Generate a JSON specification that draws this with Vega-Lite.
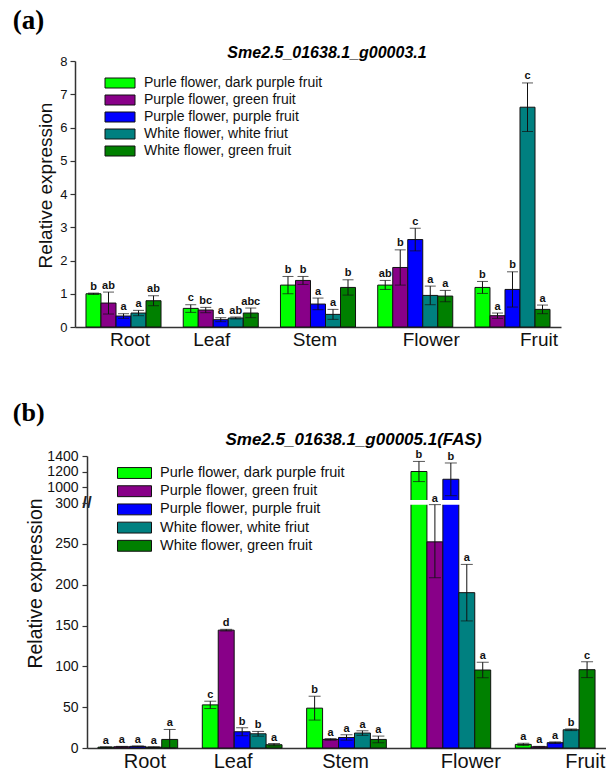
{
  "$schema": "https://vega.github.io/schema/vega-lite/v6.json",
  "background": "white",
  "padding": {"left": 12, "top": 7, "right": 0, "bottom": 0},
  "config": {
    "view": {"stroke": null},
    "font": "Liberation Sans",
    "axis": {"grid": false, "domainColor": "#333333", "tickColor": "#333333", "labelColor": "#111111", "titleColor": "#111111", "labelFont": "Liberation Sans", "titleFont": "Liberation Sans", "titleFontWeight": "normal", "domainWidth": 1.5, "tickWidth": 1.2, "labelOverlap": false},
    "axisQuantitative": {"labelOverlap": false},
    "legend": {"labelFont": "Liberation Sans", "labelColor": "#111111", "labelLimit": 400, "padding": 0},
    "title": {"color": "#000000"}
  },
  "datasets": {
    "a": [
      {"tissue": "Root", "series": "Purle flower, dark purple fruit", "mean": 1.00, "lo": 0.98, "hi": 1.02, "letter": "b"},
      {"tissue": "Root", "series": "Purple flower, green fruit", "mean": 0.72, "lo": 0.39, "hi": 1.05, "letter": "ab"},
      {"tissue": "Root", "series": "Purple flower, purple fruit", "mean": 0.33, "lo": 0.26, "hi": 0.40, "letter": "a"},
      {"tissue": "Root", "series": "White flower, white friut", "mean": 0.42, "lo": 0.34, "hi": 0.50, "letter": "a"},
      {"tissue": "Root", "series": "White flower, green fruit", "mean": 0.79, "lo": 0.64, "hi": 0.94, "letter": "ab"},
      {"tissue": "Leaf", "series": "Purle flower, dark purple fruit", "mean": 0.56, "lo": 0.44, "hi": 0.67, "letter": "c"},
      {"tissue": "Leaf", "series": "Purple flower, green fruit", "mean": 0.51, "lo": 0.43, "hi": 0.59, "letter": "bc"},
      {"tissue": "Leaf", "series": "Purple flower, purple fruit", "mean": 0.22, "lo": 0.16, "hi": 0.28, "letter": "a"},
      {"tissue": "Leaf", "series": "White flower, white friut", "mean": 0.27, "lo": 0.24, "hi": 0.30, "letter": "ab"},
      {"tissue": "Leaf", "series": "White flower, green fruit", "mean": 0.42, "lo": 0.28, "hi": 0.57, "letter": "abc"},
      {"tissue": "Stem", "series": "Purle flower, dark purple fruit", "mean": 1.26, "lo": 1.00, "hi": 1.52, "letter": "b"},
      {"tissue": "Stem", "series": "Purple flower, green fruit", "mean": 1.40, "lo": 1.28, "hi": 1.52, "letter": "b"},
      {"tissue": "Stem", "series": "Purple flower, purple fruit", "mean": 0.69, "lo": 0.52, "hi": 0.87, "letter": "a"},
      {"tissue": "Stem", "series": "White flower, white friut", "mean": 0.38, "lo": 0.23, "hi": 0.53, "letter": "a"},
      {"tissue": "Stem", "series": "White flower, green fruit", "mean": 1.19, "lo": 0.96, "hi": 1.42, "letter": "b"},
      {"tissue": "Flower", "series": "Purle flower, dark purple fruit", "mean": 1.26, "lo": 1.13, "hi": 1.40, "letter": "ab"},
      {"tissue": "Flower", "series": "Purple flower, green fruit", "mean": 1.79, "lo": 1.26, "hi": 2.32, "letter": "b"},
      {"tissue": "Flower", "series": "Purple flower, purple fruit", "mean": 2.63, "lo": 2.29, "hi": 2.97, "letter": "c"},
      {"tissue": "Flower", "series": "White flower, white friut", "mean": 0.95, "lo": 0.67, "hi": 1.23, "letter": "a"},
      {"tissue": "Flower", "series": "White flower, green fruit", "mean": 0.93, "lo": 0.76, "hi": 1.10, "letter": "a"},
      {"tissue": "Fruit", "series": "Purle flower, dark purple fruit", "mean": 1.19, "lo": 1.01, "hi": 1.37, "letter": "b"},
      {"tissue": "Fruit", "series": "Purple flower, green fruit", "mean": 0.34, "lo": 0.26, "hi": 0.42, "letter": "a"},
      {"tissue": "Fruit", "series": "Purple flower, purple fruit", "mean": 1.13, "lo": 0.60, "hi": 1.66, "letter": "b"},
      {"tissue": "Fruit", "series": "White flower, white friut", "mean": 6.61, "lo": 5.88, "hi": 7.34, "letter": "c"},
      {"tissue": "Fruit", "series": "White flower, green fruit", "mean": 0.53, "lo": 0.40, "hi": 0.66, "letter": "a"}
    ],
    "b": [
      {"tissue": "Root", "series": "Purle flower, dark purple fruit", "mean": 1.0, "lo": 0.5, "hi": 1.5, "letter": "a"},
      {"tissue": "Root", "series": "Purple flower, green fruit", "mean": 1.5, "lo": 1.0, "hi": 2.0, "letter": "a"},
      {"tissue": "Root", "series": "Purple flower, purple fruit", "mean": 2.0, "lo": 1.5, "hi": 2.5, "letter": "a"},
      {"tissue": "Root", "series": "White flower, white friut", "mean": 1.0, "lo": 0.5, "hi": 1.5, "letter": "a"},
      {"tissue": "Root", "series": "White flower, green fruit", "mean": 10.5, "lo": 0, "hi": 22.7, "letter": "a"},
      {"tissue": "Leaf", "series": "Purle flower, dark purple fruit", "mean": 52.8, "lo": 48.3, "hi": 57.3, "letter": "c"},
      {"tissue": "Leaf", "series": "Purple flower, green fruit", "mean": 144.3, "lo": 143.3, "hi": 145.3, "letter": "d"},
      {"tissue": "Leaf", "series": "Purple flower, purple fruit", "mean": 19.9, "lo": 15.0, "hi": 24.8, "letter": "b"},
      {"tissue": "Leaf", "series": "White flower, white friut", "mean": 17.4, "lo": 14.5, "hi": 20.3, "letter": "b"},
      {"tissue": "Leaf", "series": "White flower, green fruit", "mean": 4.0, "lo": 2.5, "hi": 5.5, "letter": "a"},
      {"tissue": "Stem", "series": "Purle flower, dark purple fruit", "mean": 48.8, "lo": 34.2, "hi": 63.4, "letter": "b"},
      {"tissue": "Stem", "series": "Purple flower, green fruit", "mean": 10.5, "lo": 9.5, "hi": 11.5, "letter": "a"},
      {"tissue": "Stem", "series": "Purple flower, purple fruit", "mean": 12.9, "lo": 9.6, "hi": 16.2, "letter": "a"},
      {"tissue": "Stem", "series": "White flower, white friut", "mean": 18.3, "lo": 15.5, "hi": 21.1, "letter": "a"},
      {"tissue": "Stem", "series": "White flower, green fruit", "mean": 10.5, "lo": 6.4, "hi": 14.6, "letter": "a"},
      {"tissue": "Flower", "series": "Purle flower, dark purple fruit", "mean": 1200, "lo": 1070, "hi": 1330, "letter": "b"},
      {"tissue": "Flower", "series": "Purple flower, green fruit", "mean": 252.4, "lo": 208.5, "hi": 298, "letter": "a"},
      {"tissue": "Flower", "series": "Purple flower, purple fruit", "mean": 1100, "lo": 620, "hi": 1310, "letter": "b"},
      {"tissue": "Flower", "series": "White flower, white friut", "mean": 190.2, "lo": 155.6, "hi": 224.8, "letter": "a"},
      {"tissue": "Flower", "series": "White flower, green fruit", "mean": 95.5, "lo": 86.0, "hi": 105.0, "letter": "a"},
      {"tissue": "Fruit", "series": "Purle flower, dark purple fruit", "mean": 4.4, "lo": 3.0, "hi": 5.8, "letter": "a"},
      {"tissue": "Fruit", "series": "Purple flower, green fruit", "mean": 1.5, "lo": 1.0, "hi": 2.0, "letter": "a"},
      {"tissue": "Fruit", "series": "Purple flower, purple fruit", "mean": 6.5, "lo": 5.5, "hi": 7.5, "letter": "a"},
      {"tissue": "Fruit", "series": "White flower, white friut", "mean": 22.3, "lo": 21.3, "hi": 23.3, "letter": "b"},
      {"tissue": "Fruit", "series": "White flower, green fruit", "mean": 95.9, "lo": 86.2, "hi": 105.6, "letter": "c"}
    ]
  },
  "columns": 1,
  "align": "none",
  "spacing": 51,
  "resolve": {"scale": {"x": "independent", "y": "independent", "color": "independent", "xOffset": "independent"}, "axis": {"x": "independent", "y": "independent"}, "legend": {"color": "independent"}},
  "concat": [
    {
      "title": {"text": "(a)", "anchor": "start", "frame": "bounds", "font": "Liberation Serif", "fontSize": 27, "fontWeight": "bold", "dx": -24, "offset": 10},
      "resolve": {"scale": {"color": "independent"}, "legend": {"color": "independent"}},
      "vconcat": [
        {
          "title": {"text": "Sme2.5_01638.1_g00003.1", "font": "Liberation Sans", "fontSize": 16, "fontWeight": "bold", "fontStyle": "italic", "anchor": "middle", "frame": "group", "dx": 9, "offset": -6},
          "width": 486,
          "height": 266,
          "data": {"name": "a"},
          "layer": [
            {
              "mark": {"type": "bar", "stroke": "#111111", "strokeWidth": 1},
              "encoding": {
                "x": {"field": "tissue", "type": "nominal", "sort": ["Root", "Leaf", "Stem", "Flower", "Fruit"], "scale": {"paddingInner": 0.2284, "paddingOuter": 0.113}, "title": null,
                  "axis": {"ticks": false, "labelFontSize": 19, "labelPadding": 3, "labelAngle": 0,
                    "labelOffset": {"condition": [{"test": "datum.value === 'Root'", "value": 6.5}, {"test": "datum.value === 'Leaf'", "value": -9}, {"test": "datum.value === 'Stem'", "value": -3}, {"test": "datum.value === 'Flower'", "value": 16}], "value": 26.5}}},
                "xOffset": {"field": "series", "type": "nominal", "sort": ["Purle flower, dark purple fruit", "Purple flower, green fruit", "Purple flower, purple fruit", "White flower, white friut", "White flower, green fruit"], "scale": {"paddingInner": 0, "paddingOuter": 0}},
                "y": {"field": "mean", "type": "quantitative", "scale": {"domain": [0, 8], "nice": false}, "title": "Relative expression",
                  "axis": {"values": [0, 1, 2, 3, 4, 5, 6, 7, 8], "labelOverlap": false, "labelFontSize": 13, "tickSize": 5, "labelPadding": 3, "titleFontSize": 19, "titlePadding": 4, "titleY": 124}},
                "color": {"field": "series", "type": "nominal",
                  "scale": {"domain": ["Purle flower, dark purple fruit", "Purple flower, green fruit", "Purple flower, purple fruit", "White flower, white friut", "White flower, green fruit"], "range": ["#00FF00", "#880088", "#0000FF", "#008080", "#008000"]},
                  "legend": {"orient": "none", "legendX": 38, "legendY": 15, "title": null, "symbolType": "M-2.5,-0.8333H2.5V0.8333H-2.5Z", "symbolSize": 144, "symbolStrokeColor": "#111111", "symbolStrokeWidth": 1, "symbolOpacity": 1, "labelFontSize": 14, "labelOffset": 17, "rowPadding": 3}}
              }
            },
            {
              "mark": {"type": "rule", "color": "#111111", "strokeWidth": 1},
              "encoding": {
                "x": {"field": "tissue", "type": "nominal", "sort": ["Root", "Leaf", "Stem", "Flower", "Fruit"], "scale": {"paddingInner": 0.2284, "paddingOuter": 0.113}, "title": null},
                "xOffset": {"field": "series", "type": "nominal", "sort": ["Purle flower, dark purple fruit", "Purple flower, green fruit", "Purple flower, purple fruit", "White flower, white friut", "White flower, green fruit"], "scale": {"paddingInner": 0, "paddingOuter": 0}},
                "y": {"field": "lo", "type": "quantitative", "scale": {"domain": [0, 8], "nice": false}, "title": "Relative expression",
                  "axis": {"values": [0, 1, 2, 3, 4, 5, 6, 7, 8], "labelOverlap": false, "labelFontSize": 13, "tickSize": 5, "labelPadding": 3, "titleFontSize": 19, "titlePadding": 4, "titleY": 124}},
                "y2": {"field": "hi"}
              }
            },
            {
              "mark": {"type": "tick", "color": "#111111", "thickness": 1, "size": 11},
              "encoding": {
                "x": {"field": "tissue", "type": "nominal", "sort": ["Root", "Leaf", "Stem", "Flower", "Fruit"], "scale": {"paddingInner": 0.2284, "paddingOuter": 0.113}, "title": null},
                "xOffset": {"field": "series", "type": "nominal", "sort": ["Purle flower, dark purple fruit", "Purple flower, green fruit", "Purple flower, purple fruit", "White flower, white friut", "White flower, green fruit"], "scale": {"paddingInner": 0, "paddingOuter": 0}},
                "y": {"field": "lo", "type": "quantitative", "scale": {"domain": [0, 8], "nice": false}, "title": "Relative expression",
                  "axis": {"values": [0, 1, 2, 3, 4, 5, 6, 7, 8], "labelOverlap": false, "labelFontSize": 13, "tickSize": 5, "labelPadding": 3, "titleFontSize": 19, "titlePadding": 4, "titleY": 124}}
              }
            },
            {
              "mark": {"type": "tick", "color": "#111111", "thickness": 1, "size": 11},
              "encoding": {
                "x": {"field": "tissue", "type": "nominal", "sort": ["Root", "Leaf", "Stem", "Flower", "Fruit"], "scale": {"paddingInner": 0.2284, "paddingOuter": 0.113}, "title": null},
                "xOffset": {"field": "series", "type": "nominal", "sort": ["Purle flower, dark purple fruit", "Purple flower, green fruit", "Purple flower, purple fruit", "White flower, white friut", "White flower, green fruit"], "scale": {"paddingInner": 0, "paddingOuter": 0}},
                "y": {"field": "hi", "type": "quantitative", "scale": {"domain": [0, 8], "nice": false}, "title": "Relative expression",
                  "axis": {"values": [0, 1, 2, 3, 4, 5, 6, 7, 8], "labelOverlap": false, "labelFontSize": 13, "tickSize": 5, "labelPadding": 3, "titleFontSize": 19, "titlePadding": 4, "titleY": 124}}
              }
            },
            {
              "mark": {"type": "text", "baseline": "bottom", "dy": -1.5, "fontWeight": "bold", "fontSize": 11, "color": "#111111", "font": "Liberation Sans"},
              "encoding": {
                "x": {"field": "tissue", "type": "nominal", "sort": ["Root", "Leaf", "Stem", "Flower", "Fruit"], "scale": {"paddingInner": 0.2284, "paddingOuter": 0.113}, "title": null},
                "xOffset": {"field": "series", "type": "nominal", "sort": ["Purle flower, dark purple fruit", "Purple flower, green fruit", "Purple flower, purple fruit", "White flower, white friut", "White flower, green fruit"], "scale": {"paddingInner": 0, "paddingOuter": 0}},
                "y": {"field": "hi", "type": "quantitative", "scale": {"domain": [0, 8], "nice": false}, "title": "Relative expression",
                  "axis": {"values": [0, 1, 2, 3, 4, 5, 6, 7, 8], "labelOverlap": false, "labelFontSize": 13, "tickSize": 5, "labelPadding": 3, "titleFontSize": 19, "titlePadding": 4, "titleY": 124}},
                "text": {"field": "letter"}
              }
            }
          ]
        }
      ]
    },
    {
      "title": {"text": "(b)", "anchor": "start", "frame": "bounds", "font": "Liberation Serif", "fontSize": 26, "fontWeight": "bold", "dx": -13, "offset": 5},
      "resolve": {"scale": {"color": "independent"}, "legend": {"color": "independent"}},
      "vconcat": [
        {
          "title": {"text": "Sme2.5_01638.1_g00005.1(FAS)", "font": "Liberation Sans", "fontSize": 17, "fontWeight": "bold", "fontStyle": "italic", "anchor": "middle", "frame": "group", "dx": 13, "offset": 0},
          "width": 531,
          "height": 292,
          "data": {"name": "b"},
          "layer": [
            {
              "mark": {"type": "bar", "stroke": "#111111", "strokeWidth": 1},
              "encoding": {
                "x": {"field": "tissue", "type": "nominal", "sort": ["Root", "Leaf", "Stem", "Flower", "Fruit"], "scale": {"range": [12, 531], "paddingInner": 0.236, "paddingOuter": 0.105}, "title": null,
                  "axis": {"ticks": false, "labelFontSize": 20, "labelPadding": 3, "labelAngle": 0,
                    "labelOffset": {"condition": [{"test": "datum.value === 'Root'", "value": 7}, {"test": "datum.value === 'Leaf'", "value": -9}, {"test": "datum.value === 'Stem'", "value": -1}, {"test": "datum.value === 'Flower'", "value": 20}], "value": 30}}},
                "xOffset": {"field": "series", "type": "nominal", "sort": ["Purle flower, dark purple fruit", "Purple flower, green fruit", "Purple flower, purple fruit", "White flower, white friut", "White flower, green fruit"], "scale": {"paddingInner": 0, "paddingOuter": 0}},
                "y": {"field": "mean", "type": "quantitative", "scale": {"type": "linear", "domain": [0, 300, 1000, 1400], "range": [292, 47, 31, 0], "nice": false, "zero": false}, "title": "Relative expression",
                  "axis": {"values": [0, 50, 100, 150, 200, 250, 300, 1000, 1200, 1400], "format": "d", "offset": -12, "zindex": 1, "labelOverlap": false, "labelFontSize": 14, "tickSize": 5, "labelPadding": 4, "titleFontSize": 19.5, "titlePadding": 1, "titleY": 127}},
                "color": {"field": "series", "type": "nominal",
                  "scale": {"domain": ["Purle flower, dark purple fruit", "Purple flower, green fruit", "Purple flower, purple fruit", "White flower, white friut", "White flower, green fruit"], "range": ["#00FF00", "#880088", "#0000FF", "#008080", "#008000"]},
                  "legend": {"orient": "none", "legendX": 52, "legendY": 9.5, "title": null, "symbolType": "M-2.5,-0.8H2.5V0.8H-2.5Z", "symbolSize": 185, "symbolStrokeColor": "#111111", "symbolStrokeWidth": 1, "symbolOpacity": 1, "labelFontSize": 14.5, "labelOffset": 18, "rowPadding": 2.2}}
              }
            },
            {
              "data": {"values": [{"from": 298, "to": 430}]},
              "mark": {"type": "rect", "color": "white"},
              "encoding": {
                "y": {"field": "from", "type": "quantitative", "scale": {"type": "linear", "domain": [0, 300, 1000, 1400], "range": [292, 47, 31, 0], "nice": false, "zero": false}, "title": "Relative expression",
                  "axis": {"values": [0, 50, 100, 150, 200, 250, 300, 1000, 1200, 1400], "format": "d", "offset": -12, "zindex": 1, "labelOverlap": false, "labelFontSize": 14, "tickSize": 5, "labelPadding": 4, "titleFontSize": 19.5, "titlePadding": 1, "titleY": 127}},
                "y2": {"field": "to"}
              }
            },
            {
              "data": {"values": [{"tissue": "Root", "series": "Purle flower, dark purple fruit", "at": 300, "mark": "//"}]},
              "mark": {"type": "text", "baseline": "middle", "align": "center", "dx": -19, "dy": 0, "fontSize": 17, "fontWeight": "bold", "color": "#222222", "font": "Liberation Sans"},
              "encoding": {
                "x": {"field": "tissue", "type": "nominal", "sort": ["Root", "Leaf", "Stem", "Flower", "Fruit"], "scale": {"range": [12, 531], "paddingInner": 0.236, "paddingOuter": 0.105}, "title": null},
                "xOffset": {"field": "series", "type": "nominal", "sort": ["Purle flower, dark purple fruit", "Purple flower, green fruit", "Purple flower, purple fruit", "White flower, white friut", "White flower, green fruit"], "scale": {"paddingInner": 0, "paddingOuter": 0}},
                "y": {"field": "at", "type": "quantitative", "scale": {"type": "linear", "domain": [0, 300, 1000, 1400], "range": [292, 47, 31, 0], "nice": false, "zero": false}, "title": "Relative expression",
                  "axis": {"values": [0, 50, 100, 150, 200, 250, 300, 1000, 1200, 1400], "format": "d", "offset": -12, "zindex": 1, "labelOverlap": false, "labelFontSize": 14, "tickSize": 5, "labelPadding": 4, "titleFontSize": 19.5, "titlePadding": 1, "titleY": 127}},
                "text": {"field": "mark"}
              }
            },
            {
              "mark": {"type": "rule", "color": "#111111", "strokeWidth": 1},
              "encoding": {
                "x": {"field": "tissue", "type": "nominal", "sort": ["Root", "Leaf", "Stem", "Flower", "Fruit"], "scale": {"range": [12, 531], "paddingInner": 0.236, "paddingOuter": 0.105}, "title": null},
                "xOffset": {"field": "series", "type": "nominal", "sort": ["Purle flower, dark purple fruit", "Purple flower, green fruit", "Purple flower, purple fruit", "White flower, white friut", "White flower, green fruit"], "scale": {"paddingInner": 0, "paddingOuter": 0}},
                "y": {"field": "lo", "type": "quantitative", "scale": {"type": "linear", "domain": [0, 300, 1000, 1400], "range": [292, 47, 31, 0], "nice": false, "zero": false}, "title": "Relative expression",
                  "axis": {"values": [0, 50, 100, 150, 200, 250, 300, 1000, 1200, 1400], "format": "d", "offset": -12, "zindex": 1, "labelOverlap": false, "labelFontSize": 14, "tickSize": 5, "labelPadding": 4, "titleFontSize": 19.5, "titlePadding": 1, "titleY": 127}},
                "y2": {"field": "hi"}
              }
            },
            {
              "mark": {"type": "tick", "color": "#111111", "thickness": 1, "size": 12},
              "encoding": {
                "x": {"field": "tissue", "type": "nominal", "sort": ["Root", "Leaf", "Stem", "Flower", "Fruit"], "scale": {"range": [12, 531], "paddingInner": 0.236, "paddingOuter": 0.105}, "title": null},
                "xOffset": {"field": "series", "type": "nominal", "sort": ["Purle flower, dark purple fruit", "Purple flower, green fruit", "Purple flower, purple fruit", "White flower, white friut", "White flower, green fruit"], "scale": {"paddingInner": 0, "paddingOuter": 0}},
                "y": {"field": "lo", "type": "quantitative", "scale": {"type": "linear", "domain": [0, 300, 1000, 1400], "range": [292, 47, 31, 0], "nice": false, "zero": false}, "title": "Relative expression",
                  "axis": {"values": [0, 50, 100, 150, 200, 250, 300, 1000, 1200, 1400], "format": "d", "offset": -12, "zindex": 1, "labelOverlap": false, "labelFontSize": 14, "tickSize": 5, "labelPadding": 4, "titleFontSize": 19.5, "titlePadding": 1, "titleY": 127}}
              }
            },
            {
              "mark": {"type": "tick", "color": "#111111", "thickness": 1, "size": 12},
              "encoding": {
                "x": {"field": "tissue", "type": "nominal", "sort": ["Root", "Leaf", "Stem", "Flower", "Fruit"], "scale": {"range": [12, 531], "paddingInner": 0.236, "paddingOuter": 0.105}, "title": null},
                "xOffset": {"field": "series", "type": "nominal", "sort": ["Purle flower, dark purple fruit", "Purple flower, green fruit", "Purple flower, purple fruit", "White flower, white friut", "White flower, green fruit"], "scale": {"paddingInner": 0, "paddingOuter": 0}},
                "y": {"field": "hi", "type": "quantitative", "scale": {"type": "linear", "domain": [0, 300, 1000, 1400], "range": [292, 47, 31, 0], "nice": false, "zero": false}, "title": "Relative expression",
                  "axis": {"values": [0, 50, 100, 150, 200, 250, 300, 1000, 1200, 1400], "format": "d", "offset": -12, "zindex": 1, "labelOverlap": false, "labelFontSize": 14, "tickSize": 5, "labelPadding": 4, "titleFontSize": 19.5, "titlePadding": 1, "titleY": 127}}
              }
            },
            {
              "mark": {"type": "text", "baseline": "bottom", "dy": -1, "fontWeight": "bold", "fontSize": 11, "color": "#111111", "font": "Liberation Sans"},
              "encoding": {
                "x": {"field": "tissue", "type": "nominal", "sort": ["Root", "Leaf", "Stem", "Flower", "Fruit"], "scale": {"range": [12, 531], "paddingInner": 0.236, "paddingOuter": 0.105}, "title": null},
                "xOffset": {"field": "series", "type": "nominal", "sort": ["Purle flower, dark purple fruit", "Purple flower, green fruit", "Purple flower, purple fruit", "White flower, white friut", "White flower, green fruit"], "scale": {"paddingInner": 0, "paddingOuter": 0}},
                "y": {"field": "hi", "type": "quantitative", "scale": {"type": "linear", "domain": [0, 300, 1000, 1400], "range": [292, 47, 31, 0], "nice": false, "zero": false}, "title": "Relative expression",
                  "axis": {"values": [0, 50, 100, 150, 200, 250, 300, 1000, 1200, 1400], "format": "d", "offset": -12, "zindex": 1, "labelOverlap": false, "labelFontSize": 14, "tickSize": 5, "labelPadding": 4, "titleFontSize": 19.5, "titlePadding": 1, "titleY": 127}},
                "text": {"field": "letter"}
              }
            }
          ]
        }
      ]
    }
  ]
}
